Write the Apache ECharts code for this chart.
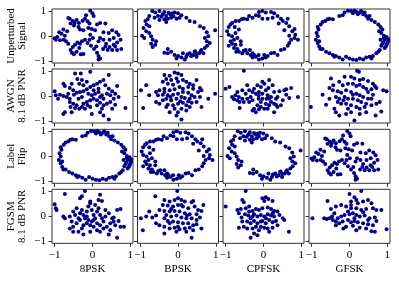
<!DOCTYPE html>
<html><head><meta charset="utf-8">
<script src="https://cdn.jsdelivr.net/npm/echarts@6/dist/echarts.min.js"></script>
<style>html,body{margin:0;padding:0;background:#fff}#c{width:399px;height:283px}</style>
</head><body><div id="c"></div><script>
const columns = ['8PSK','BPSK','CPFSK','GFSK'];
const rowLabels = ['Unperturbed\nSignal','AWGN\n8.1 dB PNR','Label\nFlip','FGSM\n8.1 dB PNR'];
const tickValues = [-1, 0, 1];
const tickLabels = ['\u22121', '0', '1'];

const unp8PSK = [[-0.06,1.0],[0.00,0.90],[0.03,0.79],[-0.17,0.82],[-0.20,0.68],[-0.26,0.60],[-0.13,0.58],[-0.08,0.50],[-0.36,0.52],[-0.42,0.63],[-0.47,0.52],[-0.52,0.59],[-0.60,0.68],[-0.64,0.71],[-0.58,0.50],[-0.49,0.42],[-0.37,0.36],[-0.33,0.26],[-0.24,0.23],[-0.11,0.32],[-0.02,0.28],[0.07,0.23],[0.12,0.46],[0.20,0.52],[0.34,0.50],[0.29,0.15],[0.43,0.12],[0.52,0.23],[0.63,0.15],[0.69,0.04],[0.74,-0.15],[0.65,-0.26],[0.56,-0.35],[0.45,-0.44],[0.40,-0.55],[0.52,-0.55],[0.65,-0.55],[0.76,-0.52],[0.60,-0.42],[0.36,-0.31],[0.29,-0.15],[0.20,-0.08],[0.16,-0.21],[0.10,-0.42],[0.04,-0.52],[-0.04,-0.39],[-0.13,-0.28],[-0.20,-0.15],[-0.28,-0.21],[-0.33,-0.31],[-0.40,-0.26],[-0.46,-0.35],[-0.52,-0.44],[-0.58,-0.55],[-0.54,-0.66],[-0.49,-0.72],[-0.42,-0.62],[-0.31,-0.72],[-0.24,-0.71],[-0.35,-0.48],[-0.64,-0.31],[-0.70,-0.21],[-0.76,-0.15],[-0.82,0.09],[-0.88,0.15],[-0.93,-0.04],[-1.00,-0.09],[-0.97,-0.15],[-0.86,-0.17],[-0.73,0.01],[-0.67,0.19],[-0.77,0.26],[0.16,-0.79],[0.16,-0.93],[0.20,-0.89],[0.12,-0.66],[0.28,-0.52],[-0.08,-0.15],[0.01,-0.08],[0.34,-0.42],[0.45,-0.15],[0.56,-0.08],[-0.06,0.05]];

const unpBPSK = [[-0.68,0.99],[-0.60,0.93],[-0.49,0.99],[-0.36,0.95],[-0.40,0.86],[-0.44,0.77],[-0.31,0.79],[-0.27,0.68],[-0.53,0.79],[-0.36,0.66],[-0.62,0.72],[-0.76,0.79],[-0.80,0.66],[-0.86,0.59],[-0.83,0.46],[-0.91,0.32],[-0.95,0.01],[-0.84,0.19],[-0.76,0.12],[-0.71,-0.01],[-0.67,-0.15],[-0.71,-0.31],[-0.67,-0.44],[-0.60,-0.35],[-0.58,-0.21],[-0.09,0.93],[0.00,0.90],[0.09,0.82],[0.04,0.72],[-0.04,0.68],[0.22,0.72],[0.31,0.59],[0.44,0.55],[0.58,0.39],[0.68,0.32],[0.76,0.15],[0.98,0.23],[0.80,-0.01],[0.71,-0.08],[0.76,-0.21],[0.84,-0.28],[0.77,-0.39],[0.71,-0.48],[0.62,-0.55],[0.56,-0.68],[0.49,-0.82],[0.40,-0.75],[0.31,-0.68],[0.22,-0.82],[0.13,-0.68],[0.09,-0.85],[0.00,-0.79],[-0.09,-0.75],[-0.18,-0.62],[-0.27,-0.68],[-0.36,-0.66],[-0.27,-0.52],[-0.04,-0.89],[0.18,-0.93],[0.44,-0.62],[0.67,-0.68],[-0.31,0.55],[-0.18,0.72],[-0.76,0.39],[-0.89,-0.08],[-0.49,0.63],[-0.20,0.85],[-0.15,0.90],[-0.25,0.92],[-0.12,0.78],[0.50,-0.70],[0.35,-0.80],[0.60,-0.60],[0.45,-0.60],[0.25,-0.72]];

const unpCPFSK = [[-0.12,0.95],[-0.03,0.99],[0.06,0.93],[0.20,0.95],[0.28,0.90],[0.37,0.79],[0.24,0.72],[0.11,0.68],[-0.03,0.68],[-0.12,0.79],[-0.20,0.82],[-0.29,0.72],[-0.38,0.79],[-0.43,0.66],[-0.52,0.68],[-0.58,0.66],[-0.65,0.59],[-0.74,0.59],[-0.83,0.52],[-0.87,0.46],[-0.92,0.36],[-0.96,0.19],[-0.92,0.05],[-0.83,-0.01],[-0.78,-0.15],[-0.87,-0.21],[-0.83,-0.31],[-0.74,-0.35],[-0.78,-0.48],[-0.69,-0.52],[-0.65,-0.62],[-0.56,-0.68],[-0.52,-0.58],[-0.43,-0.68],[-0.34,-0.75],[-0.29,-0.85],[-0.20,-0.82],[-0.12,-0.93],[-0.03,-0.89],[0.02,-0.75],[0.11,-0.79],[0.20,-0.68],[0.28,-0.66],[0.37,-0.75],[0.46,-0.55],[0.55,-0.52],[0.64,-0.39],[0.68,-0.28],[0.73,-0.15],[0.82,-0.08],[0.91,-0.15],[0.84,0.05],[0.76,0.19],[0.82,0.28],[0.68,0.39],[0.60,0.52],[0.51,0.59],[0.46,0.68],[0.64,0.68],[-0.74,0.12],[-0.69,-0.08],[-0.65,0.26],[-0.76,0.36],[-0.60,-0.21],[-0.29,-0.68],[-0.47,-0.55],[-0.36,-0.55],[-0.25,-0.75],[-0.13,-0.75],[-0.72,-0.62],[0.40,0.50],[0.55,0.23],[0.68,0.01],[-0.92,-0.39],[-0.60,-0.35],[0.06,-0.85]];

const unpGFSK = [[-0.04,1.0],[0.04,0.99],[0.13,1.0],[0.18,0.95],[0.27,0.93],[0.36,0.86],[0.31,0.99],[0.44,0.79],[0.49,0.68],[0.58,0.63],[0.67,0.55],[0.76,0.46],[0.82,0.36],[0.87,0.26],[0.84,0.12],[0.91,0.01],[0.98,-0.04],[0.93,-0.15],[1.02,-0.21],[0.89,-0.26],[0.98,-0.35],[0.84,-0.39],[0.93,-0.48],[0.80,-0.55],[0.71,-0.68],[0.62,-0.79],[0.53,-0.82],[0.44,-0.85],[0.36,-0.93],[0.27,-0.89],[0.18,-0.95],[0.09,-0.93],[0.00,-0.89],[-0.09,-0.82],[-0.18,-0.93],[-0.27,-0.85],[-0.36,-0.79],[-0.44,-0.75],[-0.53,-0.68],[-0.62,-0.62],[-0.71,-0.52],[-0.80,-0.42],[-0.84,-0.28],[-0.89,-0.15],[-0.84,-0.01],[-0.87,0.12],[-0.82,0.26],[-0.84,0.36],[-0.76,0.46],[-0.71,0.55],[-0.64,0.59],[-0.53,0.68],[-0.44,0.66],[-0.27,0.79],[-0.13,0.93],[-0.18,0.82],[0.40,0.93],[0.53,0.79],[0.78,0.19],[1.0,-0.28],[0.91,-0.08],[0.96,-0.42],[0.76,-0.62],[0.58,-0.89],[-0.40,-0.82],[-0.80,-0.21],[-0.77,-0.52],[-0.58,0.66],[0.22,0.86],[0.09,0.90],[1.02,-0.12],[0.87,-0.31],[0.82,-0.15]];

const awgn8PSK = [[-0.46,0.89],[-0.31,0.89],[-0.06,0.96],[-0.40,0.67],[-0.28,0.63],[-0.35,0.49],[-0.55,0.49],[-0.77,0.49],[-0.73,0.40],[-0.60,0.32],[-0.51,0.23],[-0.64,0.09],[-0.77,0.0],[-0.86,0.05],[-1.0,0.19],[-0.97,0.03],[-0.91,-0.11],[-0.68,-0.04],[-0.60,-0.11],[-0.49,0.05],[-0.42,0.13],[-0.33,0.16],[-0.24,0.19],[-0.15,0.27],[-0.06,0.36],[0.03,0.43],[0.12,0.49],[0.20,0.56],[0.29,0.63],[0.43,0.83],[0.34,0.43],[0.43,0.29],[0.52,0.19],[0.60,0.09],[0.65,0.40],[0.69,-0.04],[0.56,-0.11],[0.47,-0.24],[0.38,-0.31],[0.29,-0.37],[0.20,-0.27],[0.12,-0.17],[0.03,-0.11],[-0.02,0.03],[0.07,0.09],[0.16,0.16],[0.25,0.03],[0.29,-0.11],[-0.06,-0.17],[-0.15,-0.24],[-0.24,-0.31],[-0.28,-0.44],[-0.20,-0.51],[-0.13,-0.37],[-0.35,-0.51],[-0.42,-0.37],[-0.51,-0.31],[-0.58,-0.44],[-0.46,-0.48],[-0.55,-0.64],[-0.73,-0.64],[-0.77,-0.71],[-0.02,-0.71],[0.20,-0.64],[0.29,-0.77],[0.43,-0.93],[0.52,-0.51],[0.60,-0.35],[0.87,-0.48],[-0.37,-0.11],[-0.28,-0.04],[-0.11,0.09],[0.03,0.23],[0.16,0.29],[0.20,-0.04],[0.38,0.09],[0.47,0.03],[0.12,-0.37],[0.25,-0.51],[-0.24,0.43],[-0.15,0.56],[-0.60,-0.24],[-0.06,-0.44]];

const awgnBPSK = [[-0.36,0.83],[-0.22,0.80],[-0.09,0.93],[0.0,0.89],[0.09,0.83],[-0.04,0.69],[-0.18,0.63],[-0.31,0.67],[-0.40,0.56],[-0.27,0.49],[-0.13,0.45],[0.0,0.56],[0.13,0.63],[0.22,0.56],[0.31,0.49],[0.49,0.63],[0.58,0.32],[0.62,0.23],[0.53,0.16],[0.40,0.29],[0.27,0.36],[0.13,0.29],[0.04,0.36],[-0.09,0.27],[-0.22,0.23],[-0.36,0.29],[-0.49,0.23],[-0.58,0.16],[-0.53,0.03],[-0.40,0.05],[-0.27,0.03],[-0.13,0.05],[0.0,0.09],[0.13,0.16],[0.27,0.13],[0.36,0.03],[0.44,-0.04],[0.31,-0.11],[0.18,-0.08],[0.09,-0.04],[-0.04,-0.11],[-0.18,-0.17],[-0.31,-0.11],[-0.40,-0.17],[-0.27,-0.35],[-0.13,-0.37],[0.0,-0.31],[0.13,-0.27],[0.22,-0.37],[0.31,-0.44],[0.36,-0.27],[0.49,-0.24],[0.22,-0.57],[0.09,-0.51],[0.0,-0.64],[-0.04,-0.77],[0.09,-0.93],[-0.31,-0.44],[-0.49,-0.31],[-0.58,-0.24],[-0.76,0.03],[-0.84,0.43],[-0.98,0.23],[-0.92,-0.48],[0.80,-0.11],[0.98,0.09],[0.62,-0.44],[0.58,-0.04],[-0.22,-0.64],[0.27,-0.21],[-0.09,-0.51],[-0.36,0.16],[0.40,0.43],[-0.20,-0.04],[0.06,-0.21]];

const awgnCPFSK = [[-0.52,1.0],[-1.0,0.29],[-0.90,0.36],[-0.83,-0.04],[-0.78,-0.13],[-0.74,0.03],[-0.69,0.16],[-0.63,-0.24],[-0.56,-0.11],[-0.47,0.09],[-0.43,0.43],[-0.38,0.23],[-0.34,-0.04],[-0.29,-0.17],[-0.25,0.29],[-0.20,0.09],[-0.13,0.03],[-0.16,0.43],[-0.07,0.36],[-0.03,0.56],[0.02,0.49],[0.15,0.63],[0.06,0.23],[0.11,0.03],[0.15,-0.11],[0.20,-0.24],[0.28,-0.31],[0.33,-0.11],[0.37,-0.04],[0.28,0.16],[0.42,0.19],[0.55,0.23],[0.60,0.05],[0.68,-0.08],[0.73,0.32],[0.60,0.27],[0.91,-0.04],[0.46,-0.37],[0.37,-0.44],[0.28,-0.64],[0.15,-0.37],[0.06,-0.31],[-0.07,-0.24],[-0.16,-0.37],[-0.25,-0.51],[-0.20,-0.64],[-0.12,-0.53],[-0.29,-0.57],[-0.63,-0.48],[-0.52,-0.24],[-0.38,-0.24],[-0.03,-0.11],[0.24,0.43],[-0.12,0.16],[-0.29,0.16],[-0.43,-0.11],[-0.65,-0.04],[0.02,-0.51],[0.11,-0.51],[-0.07,-0.44],[0.20,-0.04],[0.51,-0.17],[-0.56,0.23],[-0.69,-0.17],[-0.03,0.09],[0.13,0.32],[0.33,-0.35],[-0.13,-0.11],[0.08,-0.11]];

const awgnGFSK = [[0.20,1.0],[0.25,0.96],[-0.49,0.69],[-0.13,0.76],[0.04,0.76],[0.13,0.69],[0.27,0.63],[0.36,0.67],[0.49,0.59],[0.62,0.49],[0.67,0.40],[-0.27,0.56],[-0.18,0.43],[-0.04,0.49],[0.09,0.49],[0.18,0.40],[0.27,0.45],[0.36,0.36],[0.44,0.29],[0.58,0.27],[0.71,0.32],[0.89,0.23],[0.98,0.19],[-0.53,0.32],[-0.44,0.23],[-0.31,0.19],[-0.22,0.13],[-0.09,0.23],[0.04,0.16],[0.18,0.09],[0.27,0.03],[0.36,-0.04],[0.49,-0.11],[0.62,0.05],[-0.36,-0.04],[-0.27,-0.11],[-0.13,-0.04],[-0.04,-0.11],[0.09,-0.11],[0.22,-0.17],[0.31,-0.24],[0.44,-0.31],[-0.31,-0.24],[-0.22,-0.31],[-0.09,-0.31],[0.04,-0.37],[0.18,-0.44],[0.27,-0.51],[0.40,-0.44],[0.58,-0.37],[0.71,-0.31],[-0.40,-0.51],[-0.36,-0.64],[-0.27,-0.77],[-0.09,-0.71],[0.04,-0.64],[0.13,-0.97],[0.27,-0.71],[0.44,-0.64],[0.69,-0.77],[0.84,-0.61],[-0.71,0.05],[-1.02,-0.44],[-0.62,-0.35],[-0.53,-0.11],[-0.04,-0.51],[0.09,0.05],[-0.16,-0.17],[0.49,0.16],[0.58,-0.11],[-0.43,0.43],[0.80,-0.24]];

const fgsm8PSK = [[-0.73,0.88],[-0.20,1.0],[-0.33,0.72],[-0.28,0.79],[-0.06,0.59],[0.20,0.85],[0.16,0.65],[0.25,0.61],[-1.0,0.48],[-0.97,0.32],[-0.95,0.25],[-0.73,-0.08],[-0.60,-0.01],[-0.51,0.19],[-0.46,0.05],[-0.55,-0.21],[-0.60,-0.48],[-0.51,-0.41],[-0.42,-0.28],[-0.37,-0.08],[-0.33,0.12],[-0.28,0.25],[-0.24,0.05],[-0.20,-0.08],[-0.15,0.19],[-0.11,0.39],[-0.06,0.52],[-0.02,0.25],[0.03,0.05],[0.07,-0.08],[0.12,0.19],[0.16,0.32],[0.20,0.05],[0.25,-0.08],[0.29,-0.21],[0.34,-0.01],[0.43,0.12],[0.52,-0.08],[0.56,-0.21],[0.60,-0.35],[0.65,0.25],[0.74,0.29],[0.74,-0.41],[0.83,-0.41],[0.69,-0.19],[0.47,-0.28],[0.38,-0.41],[0.29,-0.48],[0.20,-0.61],[0.12,-0.55],[0.03,-0.41],[-0.06,-0.35],[-0.15,-0.28],[-0.24,-0.35],[-0.28,-0.48],[-0.37,-0.61],[-0.24,-0.72],[-0.06,-0.61],[0.03,-0.15],[0.12,-0.28],[0.43,-0.72],[0.47,-0.55],[0.65,-0.85],[-0.51,-0.61],[-0.77,-0.01],[-0.42,0.32],[-0.15,-0.01],[-0.02,-0.21],[0.07,0.45],[-0.33,-0.15],[0.20,-0.35],[-0.11,-0.15],[0.34,0.25],[0.56,-0.05]];

const fgsmBPSK = [[-0.02,1.0],[-0.60,0.79],[-0.36,0.65],[-0.22,0.59],[-0.09,0.65],[0.0,0.72],[0.09,0.65],[0.18,0.59],[0.36,0.56],[0.40,0.61],[-0.40,0.45],[-0.27,0.43],[-0.13,0.39],[0.0,0.45],[0.13,0.39],[0.27,0.32],[0.44,0.39],[0.53,0.25],[0.62,0.21],[-0.49,0.25],[-0.36,0.21],[-0.22,0.19],[-0.09,0.21],[0.04,0.19],[0.18,0.12],[0.31,0.08],[0.49,0.08],[-0.31,0.05],[-0.18,-0.01],[-0.04,0.03],[0.09,-0.05],[0.22,-0.08],[0.36,-0.08],[0.49,-0.15],[-0.36,-0.08],[-0.27,-0.19],[-0.13,-0.21],[0.0,-0.24],[0.13,-0.28],[0.27,-0.28],[0.40,-0.35],[-0.58,-0.28],[-0.49,-0.35],[-0.36,-0.41],[-0.22,-0.48],[-0.09,-0.45],[0.04,-0.51],[0.18,-0.48],[0.31,-0.45],[0.49,-0.32],[0.36,-0.85],[-0.04,-0.61],[-0.36,-0.68],[-0.68,-0.05],[-0.84,-0.01],[-0.98,-0.08],[-0.93,-0.55],[0.67,0.45],[0.58,-0.05],[0.62,-0.48],[-0.76,0.19],[-0.58,0.03],[0.09,0.45],[-0.22,-0.28],[0.22,-0.61],[0.0,-0.41],[-0.18,0.29],[0.24,0.03],[0.40,-0.55]];

const fgsmCPFSK = [[-0.47,1.0],[-1.0,0.39],[-0.56,0.65],[-0.52,0.56],[-0.03,0.72],[0.06,0.75],[0.13,0.69],[0.02,0.61],[0.24,0.61],[-0.69,0.25],[-0.60,0.29],[-0.47,0.32],[-0.38,0.39],[-0.29,0.21],[-0.20,0.29],[-0.12,0.25],[-0.03,0.32],[0.11,0.35],[0.20,0.29],[0.28,0.21],[0.37,0.19],[-0.65,0.12],[-0.58,-0.05],[-0.49,0.08],[-0.40,0.03],[-0.34,-0.08],[-0.25,0.08],[-0.16,-0.01],[-0.07,0.05],[0.02,-0.01],[0.11,0.08],[0.20,0.03],[0.28,-0.01],[0.42,0.05],[0.51,-0.08],[0.55,-0.15],[-0.43,-0.21],[-0.34,-0.28],[-0.25,-0.19],[-0.16,-0.28],[-0.07,-0.21],[0.06,-0.28],[0.15,-0.15],[0.24,-0.24],[0.33,-0.19],[-0.65,-0.45],[-0.52,-0.41],[-0.43,-0.48],[-0.29,-0.48],[-0.20,-0.41],[-0.12,-0.55],[0.02,-0.45],[0.11,-0.48],[0.24,-0.45],[0.37,-0.35],[-0.25,-0.68],[-0.34,-0.85],[-0.16,-0.75],[0.67,-0.61],[0.15,-0.61],[-0.38,0.19],[0.06,-0.08],[-0.07,-0.41],[-0.29,-0.01],[0.24,0.12],[-0.56,-0.21],[-0.03,-0.19]];

const fgsmGFSK = [[0.31,1.0],[-0.58,0.61],[0.0,0.88],[0.13,0.75],[0.18,0.65],[0.04,0.59],[0.22,0.52],[0.36,0.59],[0.49,0.65],[0.58,0.52],[-0.49,0.29],[-0.36,0.39],[-0.22,0.45],[-0.09,0.39],[0.04,0.32],[0.18,0.32],[0.31,0.25],[0.44,0.29],[0.62,0.32],[0.71,0.25],[-0.53,-0.08],[-0.44,-0.15],[-0.31,-0.08],[-0.22,-0.01],[-0.13,0.05],[0.0,0.08],[0.09,0.12],[0.18,0.05],[0.27,-0.01],[0.40,0.03],[0.53,-0.08],[0.67,-0.05],[-0.27,-0.28],[-0.18,-0.21],[-0.04,-0.15],[0.04,-0.24],[0.13,-0.19],[0.22,-0.24],[0.36,-0.28],[0.49,-0.32],[0.62,-0.35],[-0.36,-0.35],[-0.09,-0.41],[0.09,-0.37],[0.27,-0.45],[0.44,-0.48],[0.58,-0.59],[0.67,-0.61],[-0.98,-0.08],[0.98,-0.51],[0.04,0.45],[0.36,0.16],[-0.40,0.12],[-0.67,-0.08],[-0.04,0.19],[0.71,-0.19],[0.18,-0.55],[-0.16,-0.48],[0.84,0.25],[-0.36,-0.21],[0.49,-0.15],[0.13,-0.08],[-0.60,-0.11],[-0.46,-0.01]];

// Label flip row shows the unperturbed samples under permuted class labels
const flip8PSK = unpGFSK, flipBPSK = unpCPFSK, flipCPFSK = unpBPSK, flipGFSK = unp8PSK;

const panels = [
  [unp8PSK, unpBPSK, unpCPFSK, unpGFSK],
  [awgn8PSK, awgnBPSK, awgnCPFSK, awgnGFSK],
  [flip8PSK, flipBPSK, flipCPFSK, flipGFSK],
  [fgsm8PSK, fgsmBPSK, fgsmCPFSK, fgsmGFSK]
];

const FONT = "'Liberation Serif','DejaVu Serif','Times New Roman',serif";
const lefts = [52, 137.5, 223, 309];
const tops = [9, 69, 129.3, 189.3];
const W = 81, H = 54;
const grid = [], xAxis = [], yAxis = [], series = [];
const fmt = v => tickLabels[tickValues.indexOf(v)];
for (let r = 0; r < 4; r++) {
  for (let c = 0; c < 4; c++) {
    const i = r * 4 + c;
    grid.push({left: lefts[c], top: tops[r], width: W, height: H, show: true,
      borderColor: '#333', borderWidth: 1, backgroundColor: '#fff'});
    xAxis.push({type: 'value', gridIndex: i, min: -1.07, max: 1.07, position: 'bottom',
      splitLine: {show: false}, axisLine: {show: false, onZero: false},
      axisTick: {show: true, customValues: tickValues, length: 3.5, lineStyle: {color: '#333'}},
      axisLabel: {show: r === 3, customValues: tickValues, formatter: fmt, margin: 6,
        fontFamily: FONT, fontSize: 11, color: '#000'},
      name: r === 3 ? columns[c] : '', nameLocation: 'middle', nameGap: 20,
      nameTextStyle: {fontFamily: FONT, fontSize: 11, color: '#000'}});
    yAxis.push({type: 'value', gridIndex: i, min: -1.07, max: 1.07, position: 'left',
      splitLine: {show: false}, axisLine: {show: false, onZero: false},
      axisTick: {show: true, customValues: tickValues, length: 3.5, lineStyle: {color: '#333'}},
      axisLabel: {show: c === 0, customValues: tickValues, formatter: fmt, margin: 6,
        fontFamily: FONT, fontSize: 11, color: '#000'},
      name: c === 0 ? rowLabels[r] : '', nameLocation: 'middle', nameRotate: 90, nameGap: 24,
      nameTextStyle: {fontFamily: FONT, fontSize: 11, color: '#000', lineHeight: 11}});
    series.push({type: 'scatter', xAxisIndex: i, yAxisIndex: i, data: panels[r][c],
      symbolSize: 4, itemStyle: {color: '#00008b', opacity: 1}, silent: true});
  }
}
const chart = echarts.init(document.getElementById('c'), null, {renderer: 'canvas'});
chart.setOption({animation: false, backgroundColor: '#fff', grid, xAxis, yAxis, series});
</script></body></html>
